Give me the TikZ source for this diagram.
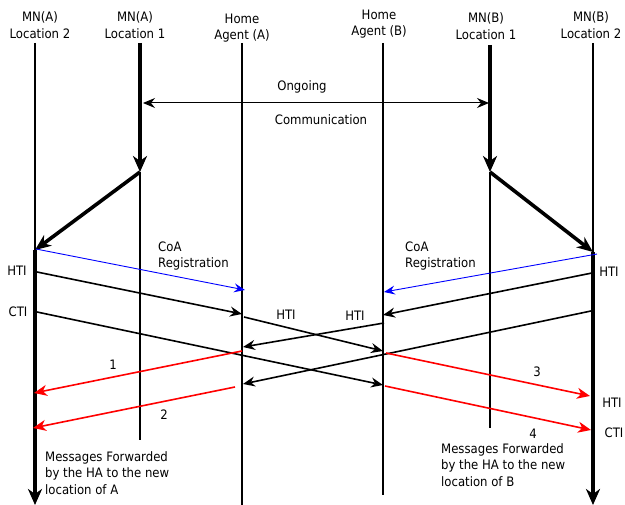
\documentclass[tikz,border=0pt]{standalone}
\usepackage{fontspec}
\setmainfont{DejaVu Sans Condensed}
\usetikzlibrary{arrows.meta}
\begin{document}
\begin{tikzpicture}[x=1pt,y=-1pt,
  lbl/.style={font=\fontsize{13}{16.5}\selectfont, align=center, inner sep=0pt},
  txt/.style={font=\fontsize{13}{16.5}\selectfont, align=left, inner sep=0pt, anchor=north west},
  life/.style={line width=1.6pt},
  lifethick/.style={line width=4pt},
  bigtip/.style={-{Stealth[length=16pt,width=14pt,inset=5pt]}},
  bigarr/.style={line width=3.6pt, -{Stealth[length=16pt,width=13pt,inset=5pt]}},
  msg/.style={line width=1.6pt, -{Stealth[length=12pt,width=10pt,inset=4pt]}},
  msgb/.style={line width=0.9pt, blue, -{Stealth[length=11pt,width=9pt,inset=4pt]}},
  msgr/.style={line width=1.6pt, red, -{Stealth[length=13pt,width=11pt,inset=4pt]}}
]
\useasboundingbox (0,0) rectangle (625,505);
% headers
\node[lbl] (hA2) at (40,25) {MN(A)\\Location 2};
\node[lbl] (hA1) at (135,25) {MN(A)\\Location 1};
\node[lbl] (hHA) at (242,28) {Home\\Agent (A)};
\node[lbl] (hHB) at (379,24) {Home\\Agent (B)};
\node[lbl] (hB1) at (486,26) {MN(B)\\Location 1};
\node[lbl] (hB2) at (591,25) {MN(B)\\Location 2};
% lifeline coordinates
\coordinate (a2t) at (35,43);  \coordinate (a2m) at (35,250); \coordinate (a2b) at (35,505);
\coordinate (a1t) at (140,43); \coordinate (a1m) at (140,172); \coordinate (a1b) at (140,440);
\coordinate (hat) at (242,43); \coordinate (hab) at (242,505);
\coordinate (hbt) at (383,43); \coordinate (hbb) at (383,495);
\coordinate (b1t) at (490,45); \coordinate (b1m) at (490,172); \coordinate (b1b) at (490,428);
\coordinate (b2t) at (593,43); \coordinate (b2m) at (593,252); \coordinate (b2b) at (593,505);
% lifelines
\draw[life] (a2t) -- (a2m);
\draw[lifethick, bigtip] (a2m) -- (a2b);
\draw[lifethick, bigtip] (a1t) -- (a1m);
\draw[life] (a1m) -- (a1b);
\draw[life] (hat) -- (hab);
\draw[life] (hbt) -- (hbb);
\draw[lifethick, bigtip] (b1t) -- (b1m);
\draw[life] (b1m) -- (b1b);
\draw[life] (b2t) -- (b2m);
\draw[lifethick, bigtip] (b2m) -- (b2b);
% ongoing communication
\coordinate (ongL) at (143,103); \coordinate (ongR) at (489,103);
\draw[line width=1pt, {Stealth[length=12pt,width=10pt,inset=4pt]}-{Stealth[length=12pt,width=10pt,inset=4pt]}] (ongL) -- (ongR);
\node[lbl] (ong) at (302,87) {Ongoing};
\node[lbl] (comm) at (321,120) {Communication};
% movement
\draw[bigarr] (a1m) -- (a2m);
\draw[bigarr] (b1m) -- (b2m);
% CoA registration
\coordinate (coaAs) at (36,249); \coordinate (coaAe) at (245,290);
\draw[msgb] (coaAs) -- (coaAe);
\node[lbl, anchor=west, align=left] (coaA) at (158,256) {CoA\\Registration};
\coordinate (coaBs) at (597,254); \coordinate (coaBe) at (384,292);
\draw[msgb] (coaBs) -- (coaBe);
\node[lbl, anchor=west, align=left] (coaB) at (405,256) {CoA\\Registration};
% HTI / CTI from A
\node[lbl] (htiA) at (17,271) {HTI};
\node[lbl] (ctiA) at (18,312) {CTI};
\coordinate (htiAs) at (37,272); \coordinate (htiAe) at (242,314);
\draw[msg] (htiAs) -- (htiAe);
\coordinate (htiA2s) at (244,317); \coordinate (htiA2e) at (383,351);
\draw[msg] (htiA2s) -- (htiA2e);
\node[lbl] (htiAf) at (286,315) {HTI};
\coordinate (ctiAs) at (37,312); \coordinate (ctiAe) at (383,385);
\draw[msg] (ctiAs) -- (ctiAe);
% HTI / CTI from B
\node[lbl] (htiB) at (609,272) {HTI};
\coordinate (htiBs) at (592,273); \coordinate (htiBe) at (383,315);
\draw[msg] (htiBs) -- (htiBe);
\coordinate (htiB2s) at (384,323); \coordinate (htiB2e) at (243,347);
\draw[msg] (htiB2s) -- (htiB2e);
\node[lbl] (htiBf) at (355,316) {HTI};
\coordinate (ctiBs) at (591,311); \coordinate (ctiBe) at (243,384);
\draw[msg] (ctiBs) -- (ctiBe);
% forwarded messages (red)
\coordinate (r1s) at (242,351); \coordinate (r1e) at (34,393);
\draw[msgr] (r1s) -- (r1e);
\node[lbl] (n1) at (113,365) {1};
\coordinate (r2s) at (235,387); \coordinate (r2e) at (33,428);
\draw[msgr] (r2s) -- (r2e);
\node[lbl] (n2) at (164,415) {2};
\coordinate (r3s) at (386,353); \coordinate (r3e) at (590,396);
\draw[msgr] (r3s) -- (r3e);
\node[lbl] (n3) at (537,372) {3};
\coordinate (r4s) at (385,386); \coordinate (r4e) at (591,430);
\draw[msgr] (r4s) -- (r4e);
\node[lbl] (n4) at (533,434) {4};
\node[lbl] (htiBr) at (612,403) {HTI};
\node[lbl] (ctiBr) at (614,433) {CTI};
% notes
\node[txt] (noteA) at (45,451) {Messages Forwarded\\by the HA to the new\\location of A};
\node[txt] (noteB) at (441,443) {Messages Forwarded\\by the HA to the new\\location of B};
\end{tikzpicture}
\end{document}
